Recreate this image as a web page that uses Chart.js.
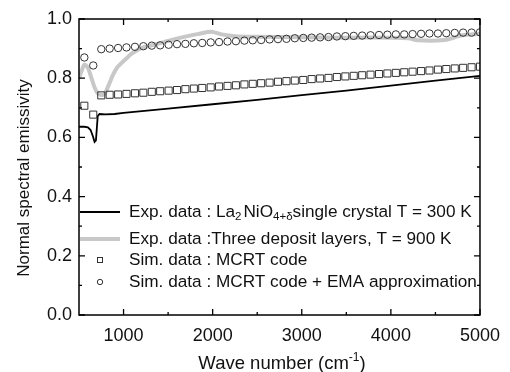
<!DOCTYPE html>
<html>
<head>
<meta charset="utf-8">
<script src="https://cdn.jsdelivr.net/npm/chart.js@4/dist/chart.umd.min.js"></script>
<style>
  html, body { margin: 0; padding: 0; background: #fff; }
  #wrap { width: 510px; height: 372px; position: relative; }
</style>
</head>
<body>
<div id="wrap"><canvas id="chart" width="510" height="372"></canvas></div>
<script>
// tick values
const xMajor = [1000, 2000, 3000, 4000, 5000];
const xMinor = [1500, 2500, 3500, 4500];
const yMajor = [0, 0.2, 0.4, 0.6, 0.8, 1.0];
const yMinor = [0.1, 0.3, 0.5, 0.7, 0.9];

// Exp. data, single crystal 300 K
const blackX = [500, 560, 600, 630, 655, 675, 690, 700, 710, 730, 800, 900, 1000, 1500, 2000, 2500, 3000, 3500, 4000, 4500, 5000];
const blackY = [0.636, 0.636, 0.634, 0.625, 0.605, 0.585, 0.59, 0.63, 0.672, 0.679, 0.678, 0.679, 0.683, 0.697, 0.712, 0.727, 0.743, 0.758, 0.775, 0.792, 0.808];

// Exp. data, three deposit layers 900 K
const grayX = [500, 530, 560, 600, 640, 680, 720, 780, 830, 880, 930, 1000, 1050, 1100, 1200, 1380, 1550, 1730, 1850, 1980, 2100, 2250, 2500, 3000, 3500, 4000, 4200, 4300, 4600, 4800, 5000];
const grayY = [0.80, 0.825, 0.845, 0.835, 0.80, 0.765, 0.746, 0.745, 0.775, 0.81, 0.837, 0.858, 0.872, 0.885, 0.902, 0.916, 0.93, 0.943, 0.95, 0.957, 0.948, 0.942, 0.94, 0.938, 0.937, 0.937, 0.935, 0.928, 0.929, 0.945, 0.95];

// simulated points (shared wave numbers)
const simX = [560, 660, 750, 844, 939, 1033, 1128, 1222, 1317, 1411, 1506, 1600, 1694, 1789, 1883, 1978, 2072, 2167, 2261, 2356, 2450, 2544, 2639, 2733, 2828, 2922, 3017, 3111, 3206, 3300, 3394, 3489, 3583, 3678, 3772, 3867, 3961, 4056, 4150, 4244, 4339, 4433, 4528, 4622, 4717, 4811, 4906, 5000];
const mcrtY = [0.707, 0.677, 0.742, 0.744, 0.745, 0.747, 0.749, 0.751, 0.754, 0.756, 0.758, 0.760, 0.763, 0.765, 0.767, 0.769, 0.772, 0.774, 0.776, 0.779, 0.781, 0.783, 0.785, 0.788, 0.790, 0.792, 0.794, 0.797, 0.799, 0.801, 0.804, 0.806, 0.808, 0.810, 0.812, 0.814, 0.816, 0.818, 0.820, 0.822, 0.824, 0.826, 0.829, 0.831, 0.833, 0.835, 0.837, 0.839];
const emaY = [0.870, 0.843, 0.898, 0.900, 0.902, 0.904, 0.906, 0.908, 0.910, 0.911, 0.913, 0.915, 0.916, 0.918, 0.919, 0.921, 0.922, 0.924, 0.925, 0.927, 0.928, 0.929, 0.931, 0.932, 0.933, 0.935, 0.936, 0.937, 0.938, 0.939, 0.941, 0.942, 0.943, 0.944, 0.945, 0.946, 0.947, 0.948, 0.948, 0.949, 0.950, 0.951, 0.951, 0.952, 0.953, 0.954, 0.954, 0.955];

const FONT = '"Liberation Sans", Arial, sans-serif';
const pts = (xs, ys) => xs.map((x, i) => ({ x: x, y: ys[i] }));

// frame, inward ticks, legend and axis titles
const decor = {
    id: 'decor',
    afterDraw(chart) {
        const { ctx, chartArea: a, scales: { x, y } } = chart;
        ctx.save();
        ctx.strokeStyle = '#000';
        ctx.lineWidth = 1.5;
        ctx.strokeRect(a.left, a.top, a.right - a.left, a.bottom - a.top);

        ctx.lineWidth = 1.3;
        ctx.beginPath();
        const tx = (v, len) => {
            const px = x.getPixelForValue(v);
            ctx.moveTo(px, a.bottom); ctx.lineTo(px, a.bottom - len);
            ctx.moveTo(px, a.top); ctx.lineTo(px, a.top + len);
        };
        const ty = (v, len) => {
            const py = y.getPixelForValue(v);
            ctx.moveTo(a.left, py); ctx.lineTo(a.left + len, py);
            ctx.moveTo(a.right, py); ctx.lineTo(a.right - len, py);
        };
        xMajor.forEach(v => tx(v, 6));
        xMinor.forEach(v => tx(v, 3));
        yMajor.forEach(v => ty(v, 6));
        yMinor.forEach(v => ty(v, 3));
        ctx.stroke();

        // legend
        const lx0 = 80, lx1 = 120, tx0 = 129;
        const rows = [212, 239, 260, 282];
        ctx.lineCap = 'butt';
        ctx.strokeStyle = '#000';
        ctx.lineWidth = 1.8;
        ctx.beginPath(); ctx.moveTo(lx0, rows[0]); ctx.lineTo(lx1, rows[0]); ctx.stroke();
        ctx.strokeStyle = '#c8c8c8';
        ctx.lineWidth = 4;
        ctx.beginPath(); ctx.moveTo(lx0, rows[1]); ctx.lineTo(lx1, rows[1]); ctx.stroke();
        ctx.strokeStyle = '#333';
        ctx.lineWidth = 1;
        ctx.strokeRect(97.5, rows[2] - 2.5, 5, 5);
        ctx.beginPath(); ctx.arc(100, rows[3], 2.7, 0, Math.PI * 2); ctx.stroke();

        ctx.fillStyle = '#111';
        ctx.textBaseline = 'middle';
        ctx.textAlign = 'left';
        const big = '17.2px ' + FONT, small = '11.5px ' + FONT;
        let cx = tx0;
        const seg = (t, f, dy) => {
            ctx.font = f;
            ctx.fillText(t, cx, rows[0] + dy);
            cx += ctx.measureText(t).width;
        };
        seg('Exp. data : La', big, 0);
        seg('2', small, 5);
        cx += 2;
        seg('NiO', big, 0);
        seg('4+\u03b4', small, 5);
        seg('single crystal T = 300 K', big, 0);
        ctx.font = big;
        ctx.fillText('Exp. data :Three deposit layers, T = 900 K', tx0, rows[1]);
        ctx.fillText('Sim. data : MCRT code', tx0, rows[2]);
        ctx.fillText('Sim. data : MCRT code + EMA approximation', tx0, rows[3]);

        // x title with superscript
        ctx.textBaseline = 'alphabetic';
        const f18 = '18.5px ' + FONT, f12 = '12px ' + FONT;
        ctx.font = f18;
        const p1 = 'Wave number (cm', p3 = ')';
        const w1 = ctx.measureText(p1).width, w3 = ctx.measureText(p3).width;
        ctx.font = f12;
        const w2 = ctx.measureText('-1').width;
        let sx = 282 - (w1 + w2 + w3) / 2;
        ctx.font = f18; ctx.fillText(p1, sx, 369); sx += w1;
        ctx.font = f12; ctx.fillText('-1', sx, 361); sx += w2;
        ctx.font = f18; ctx.fillText(p3, sx, 369);

        // y title
        ctx.translate(29, 178);
        ctx.rotate(-Math.PI / 2);
        ctx.textAlign = 'center';
        ctx.font = '17px ' + FONT;
        ctx.fillText('Normal spectral emissivity', 0, 0);
        ctx.restore();
    }
};

new Chart(document.getElementById('chart').getContext('2d'), {
    type: 'scatter',
    data: {
        datasets: [
            {
                label: 'Sim. data : MCRT code + EMA approximation',
                data: pts(simX, emaY),
                pointStyle: 'circle',
                pointRadius: 3.7,
                borderColor: '#333',
                backgroundColor: 'rgba(0,0,0,0)',
                borderWidth: 1,
                order: 0,
            },
            {
                label: 'Sim. data : MCRT code',
                data: pts(simX, mcrtY),
                pointStyle: 'rect',
                pointRadius: 5,
                borderColor: '#333',
                backgroundColor: 'rgba(0,0,0,0)',
                borderWidth: 1,
                order: 1,
            },
            {
                label: 'Exp. data : La2NiO4+d single crystal T = 300 K',
                data: pts(blackX, blackY),
                showLine: true,
                pointRadius: 0,
                borderColor: '#000',
                borderWidth: 1.8,
                tension: 0,
                order: 2,
            },
            {
                label: 'Exp. data :Three deposit layers, T = 900 K',
                data: pts(grayX, grayY),
                showLine: true,
                pointRadius: 0,
                borderColor: '#c8c8c8',
                borderWidth: 4,
                tension: 0.3,
                order: 3,
            }
        ]
    },
    options: {
        responsive: false,
        animation: false,
        events: [],
        layout: { padding: { top: 19, right: 27, left: 0, bottom: 0 } },
        plugins: { legend: { display: false }, tooltip: { enabled: false } },
        scales: {
            x: {
                type: 'linear',
                min: 500,
                max: 5000,
                grid: { display: false, drawTicks: false },
                border: { display: false },
                afterBuildTicks: s => { s.ticks = xMajor.map(v => ({ value: v })); },
                afterFit: s => { s.height = 57; },
                ticks: {
                    padding: 10,
                    maxRotation: 0,
                    color: '#111',
                    font: { family: FONT, size: 18 },
                    callback: v => String(v)
                }
            },
            y: {
                min: 0,
                max: 1,
                grid: { display: false, drawTicks: false },
                border: { display: false },
                afterBuildTicks: s => { s.ticks = yMajor.map(v => ({ value: v })); },
                afterFit: s => { s.width = 79; },
                ticks: {
                    padding: 7,
                    color: '#111',
                    font: { family: FONT, size: 18 },
                    callback: v => v.toFixed(1)
                }
            }
        }
    },
    plugins: [decor]
});
</script>
</body>
</html>
